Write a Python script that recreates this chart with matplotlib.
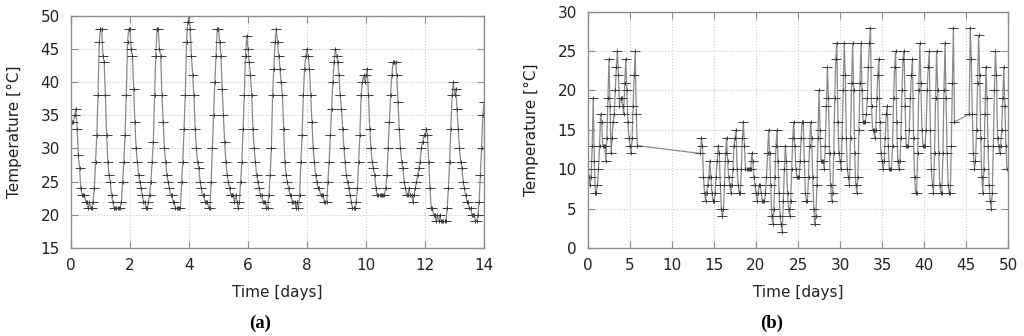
import numpy as np
import matplotlib as mpl
mpl.use('Agg')
from matplotlib import pyplot as plt
from matplotlib.path import Path

# (a) hourly readings, 14 days
temp_a = [
    33, 34, 34, 35, 36, 33, 29, 27, 24, 23, 23, 23, 22, 22, 21, 22, 21, 21, 22, 24, 28, 32, 38, 46,
    48, 48, 44, 43, 38, 32, 28, 26, 25, 23, 22, 21, 21, 21, 21, 21, 21, 22, 25, 28, 32, 38, 46, 48,
    48, 45, 44, 39, 34, 30, 28, 26, 25, 24, 23, 22, 22, 21, 21, 22, 23, 25, 28, 31, 38, 44, 48, 48,
    45, 44, 38, 34, 30, 28, 26, 25, 24, 23, 23, 22, 22, 21, 21, 21, 21, 21, 25, 28, 33, 38, 46, 49,
    50, 48, 44, 41, 38, 33, 30, 28, 27, 25, 24, 23, 23, 22, 22, 22, 21, 21, 25, 30, 35, 40, 44, 48,
    48, 46, 44, 39, 35, 31, 28, 26, 25, 24, 23, 23, 23, 22, 23, 22, 21, 22, 25, 28, 33, 38, 44, 47,
    45, 43, 41, 38, 33, 30, 28, 26, 25, 24, 23, 23, 22, 22, 22, 21, 21, 23, 26, 30, 38, 42, 46, 48,
    46, 44, 42, 40, 38, 33, 28, 26, 25, 24, 23, 23, 22, 22, 22, 21, 22, 21, 23, 28, 32, 38, 42, 44,
    45, 44, 42, 38, 34, 30, 28, 26, 25, 24, 24, 23, 23, 23, 22, 22, 22, 25, 28, 32, 36, 40, 43, 45,
    44, 43, 41, 38, 36, 33, 30, 28, 26, 25, 24, 23, 22, 21, 21, 21, 22, 24, 28, 32, 38, 40, 41, 40,
    41, 42, 38, 33, 30, 28, 27, 26, 24, 23, 23, 23, 23, 23, 23, 23, 24, 26, 30, 34, 38, 41, 43, 43,
    43, 41, 37, 33, 30, 28, 27, 25, 24, 23, 23, 24, 23, 23, 22, 23, 24, 25, 26, 27, 28, 30, 31, 32,
    32, 33, 32, 28, 24, 21, 21, 20, 20, 19, 20, 19, 20, 19, 19, 19, 19, 19, 21, 24, 28, 33, 38, 40,
    38, 39, 36, 33, 30, 28, 27, 25, 24, 23, 22, 22, 21, 21, 20, 20, 20, 19, 19, 20, 22, 26, 30, 35,
    37,
]

# (b) 3-hourly readings, three stretches of record
start_b1 = 0.0
temp_b1 = [
    10, 9, 8, 9, 13, 19, 11, 7,
    7, 8, 10, 13, 17, 16, 13, 13,
    13, 11, 14, 19, 24, 18, 12, 14,
    16, 17, 20, 23, 25, 22, 18, 19,
    19, 18, 17, 21, 24, 20, 16, 14,
    13, 12, 14, 18, 22, 25, 17, 13,
]
start_b2 = 13.375
temp_b2 = [
    12, 14, 13, 9, 7,
    6, 7, 8, 9, 11, 9, 7, 6,
    6, 7, 9, 11, 13, 12, 8, 5,
    4, 5, 8, 12, 14, 11, 9, 8,
    7, 8, 10, 13, 14, 15, 10, 8,
    7, 7, 10, 14, 16, 13, 10, 10,
    10, 10, 10, 10, 12, 11, 9, 8,
    7, 6, 7, 8, 8, 7, 6, 6,
    6, 7, 9, 12, 15, 12, 8, 4,
    3, 5, 9, 13, 15, 11, 7, 4,
    3, 2, 6, 10, 13, 11, 7, 5,
    4, 6, 10, 14, 16, 13, 10, 9,
    9, 9, 11, 14, 16, 16, 11, 7,
    6, 6, 9, 13, 16, 14, 9, 5,
    3, 4, 8, 14, 20, 15, 11, 11,
    11, 10, 13, 18, 23, 19, 12, 8,
    6, 7, 12, 19, 24, 26, 16, 12,
    11, 10, 14, 20, 26, 22, 14, 10,
    9, 8, 14, 21, 26, 20, 12, 8,
    7, 9, 15, 21, 26, 20, 16, 16,
    16, 17, 19, 23, 26, 28, 18, 15,
    15, 14, 15, 19, 22, 24, 16, 12,
    11, 10, 11, 14, 17, 18, 13, 10,
    10, 10, 13, 19, 23, 25, 16, 11,
    10, 11, 14, 20, 24, 25, 18, 13,
    13, 13, 15, 19, 22, 24, 14, 9,
    7, 7, 12, 20, 26, 21, 15, 13,
    13, 13, 15, 20, 23, 25, 15, 10,
    8, 7, 12, 19, 25, 20, 12, 8,
    7, 7, 12, 20, 26, 19, 12, 8,
    7, 7, 13, 21, 28, 16,
]
start_b3 = 45.375
temp_b3 = [
    17, 28, 24, 17, 12,
    10, 11, 15, 21, 27, 22, 14, 9,
    7, 10, 17, 23, 19, 13, 8, 6,
    5, 7, 13, 20, 25, 22, 14, 13,
    12, 13, 15, 19, 23, 18, 13, 10,
    10,
]

PLUS = Path([(-1, 0), (1, 0), (0, -0.45), (0, 0.45)],
            [Path.MOVETO, Path.LINETO, Path.MOVETO, Path.LINETO])


def style_axes(ax, xlim, ylim, xticks, yticks):
    ax.set_xlim(*xlim)
    ax.set_ylim(*ylim)
    ax.set_xticks(xticks)
    ax.set_yticks(yticks)
    ax.grid(True, color='#c8c8c8', linestyle=':', linewidth=0.8)
    ax.set_axisbelow(True)
    for s in ax.spines.values():
        s.set_color('#8c8c8c')
        s.set_linewidth(1.0)
    ax.tick_params(direction='in', length=5, width=0.8, color='#8c8c8c',
                   top=True, right=True, labelsize=11, labelcolor='#222222')
    ax.tick_params(axis='y', pad=8)
    ax.tick_params(axis='x', pad=7)
    ax.set_xlabel('Time [days]', fontsize=11, color='#222222', labelpad=9)
    ax.set_ylabel('Temperature [°C]', fontsize=11, color='#222222',
                  labelpad=13)


def draw_series(ax, t, y):
    ax.plot(t, y, color='#8a8a8a', lw=0.9)
    ax.plot(t, y, ls='none', marker=PLUS, ms=7, mfc='none',
            mec='#3a3a3a', mew=0.7)


def main():
    fig = plt.figure(figsize=(10.24, 3.36), dpi=100)
    ax1 = fig.add_axes([0.0693, 0.262, 0.4034, 0.691])
    ax2 = fig.add_axes([0.5742, 0.262, 0.4102, 0.703])

    t_a = np.arange(len(temp_a)) / 24.0
    draw_series(ax1, t_a, temp_a)
    style_axes(ax1, (0, 14), (15, 50), range(0, 15, 2), range(15, 51, 5))

    t_b = np.concatenate([start_b1 + np.arange(len(temp_b1)) * 0.125,
                          start_b2 + np.arange(len(temp_b2)) * 0.125,
                          start_b3 + np.arange(len(temp_b3)) * 0.125])
    draw_series(ax2, t_b, temp_b1 + temp_b2 + temp_b3)
    style_axes(ax2, (0, 50), (0, 30), range(0, 51, 5), range(0, 31, 5))

    fig.text(260 / 1024, 1 - 323 / 336, '(a)', ha='center', va='center',
             fontsize=13.5, fontweight='bold', family='Liberation Serif')
    fig.text(772 / 1024, 1 - 323 / 336, '(b)', ha='center', va='center',
             fontsize=13.5, fontweight='bold', family='Liberation Serif')

    fig.savefig('out.png', dpi=100)


if __name__ == "__main__":
    main()
